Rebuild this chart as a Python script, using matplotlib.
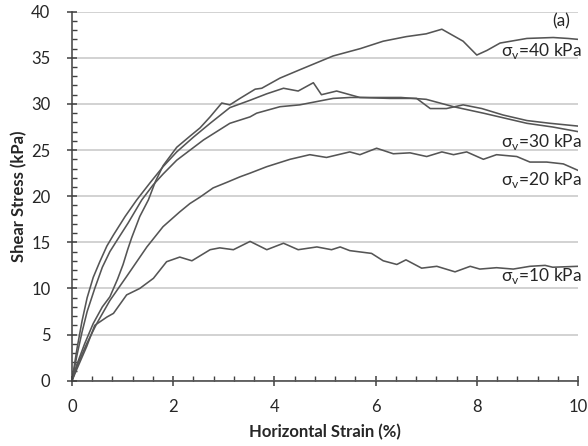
import matplotlib
matplotlib.use("Agg")
import matplotlib.pyplot as plt
from matplotlib.ticker import MultipleLocator

plt.rcParams['font.family'] = ['Lato', 'DejaVu Sans']
plt.rcParams['mathtext.fontset'] = 'custom'
plt.rcParams['mathtext.rm'] = 'Lato'

# data (strain %, shear stress kPa)
x_40 = [0, 0.1, 0.25, 0.42, 0.6, 0.75, 0.9, 1.01, 1.1, 1.18, 1.34, 1.51, 1.65, 1.8, 2.07, 2.33, 2.53,
        2.73, 2.96, 3.12, 3.32, 3.62, 3.75, 4.11, 4.5, 5.16, 5.7, 6.15, 6.61, 7.0, 7.31, 7.73, 8.0,
        8.2, 8.46, 8.99, 9.51, 9.8, 10.0]
y_40 = [0, 1.8, 4.0, 6.2, 8.0, 9.1, 11.0, 12.6, 14.2, 15.5, 17.8, 19.6, 21.6, 23.3, 25.3, 26.5, 27.4,
        28.6, 30.1, 29.9, 30.6, 31.6, 31.7, 32.8, 33.7, 35.2, 36.0, 36.8, 37.3, 37.6, 38.1, 36.8, 35.3,
        35.8, 36.6, 37.1, 37.2, 37.1, 37.0]

x_30a = [0, 0.1, 0.2, 0.3, 0.42, 0.55, 0.69, 0.82, 1.05, 1.28, 1.55, 1.8, 2.07, 2.4, 2.73, 3.12, 3.52,
         3.85, 4.18, 4.47, 4.77, 4.93, 5.23, 5.69, 6.28, 6.81, 7.08, 7.4, 7.73, 8.1, 8.52, 8.99,
         9.45, 10.0]
y_30a = [0, 3.5, 6.5, 9.0, 11.2, 12.9, 14.6, 15.8, 17.8, 19.6, 21.5, 23.2, 24.8, 26.4, 27.9, 29.6, 30.4,
         31.1, 31.7, 31.4, 32.3, 31.0, 31.4, 30.7, 30.6, 30.6, 29.5, 29.5, 29.9, 29.5, 28.8, 28.2,
         27.9, 27.6]

x_30b = [0, 0.1, 0.2, 0.3, 0.45, 0.6, 0.75, 0.9, 1.11, 1.38, 1.6, 1.8, 2.07, 2.6, 3.12, 3.52, 3.65,
         4.11, 4.5, 5.16, 5.5, 6.0, 6.5, 7.0, 7.54, 8.13, 8.99, 9.5, 10.0]
y_30b = [0, 2.8, 5.3, 7.5, 10.0, 12.3, 14.0, 15.3, 17.1, 19.6, 21.2, 22.4, 23.9, 26.1, 27.9, 28.6, 29.0,
         29.7, 29.9, 30.6, 30.7, 30.7, 30.7, 30.5, 29.7, 29.0, 27.9, 27.5, 27.0]

x_20 = [0, 0.1, 0.29, 0.49, 0.75, 1.08, 1.48, 1.8, 2.13, 2.33, 2.53, 2.79, 3.06, 3.32, 3.52,
        3.85, 4.31, 4.7, 5.03, 5.49, 5.69, 6.02, 6.35, 6.68, 7.01, 7.31, 7.54, 7.8, 8.13, 8.39,
        8.79, 9.05, 9.38, 9.71, 10.0]
y_20 = [0, 1.6, 4.0, 6.2, 8.7, 11.3, 14.5, 16.7, 18.3, 19.2, 19.9, 20.9, 21.5, 22.1, 22.5,
        23.2, 24.0, 24.5, 24.2, 24.8, 24.5, 25.2, 24.6, 24.7, 24.3, 24.8, 24.5, 24.8, 24.0, 24.5,
        24.3, 23.7, 23.7, 23.5, 22.8]

x_10 = [0, 0.1, 0.29, 0.45, 0.69, 0.82, 1.08, 1.34, 1.61, 1.87, 2.13, 2.37, 2.73, 2.92, 3.19,
        3.52, 3.85, 4.18, 4.47, 4.84, 5.13, 5.3, 5.49, 5.92, 6.15, 6.42, 6.6, 6.91, 7.21, 7.57,
        7.87, 8.06, 8.39, 8.72, 9.05, 9.35, 9.5, 10.0]
y_10 = [0, 1.3, 3.7, 6.0, 6.9, 7.3, 9.3, 10.0, 11.1, 12.9, 13.4, 13.0, 14.2, 14.4, 14.2,
        15.1, 14.2, 14.9, 14.2, 14.5, 14.2, 14.5, 14.1, 13.8, 13.0, 12.6, 13.1, 12.2, 12.4, 11.8,
        12.4, 12.1, 12.25, 12.1, 12.4, 12.5, 12.3, 12.4]

labels = ['40', '30', '20', '10']
label_y = [35.7, 25.9, 21.8, 11.4]

fig = plt.figure(figsize=(5.88, 4.46), dpi=100)
ax = fig.add_axes([0.1224, 0.1464, 0.8606, 0.8274])

lc = '#555555'
for xs, ys in [(x_40, y_40), (x_30a, y_30a), (x_30b, y_30b), (x_20, y_20), (x_10, y_10)]:
    ax.plot(xs, ys, color=lc, lw=1.15, zorder=3)

ax.set_xlim(0, 10)
ax.set_ylim(0, 40)
ax.xaxis.set_major_locator(MultipleLocator(2))
ax.xaxis.set_minor_locator(MultipleLocator(0.4))
ax.yaxis.set_major_locator(MultipleLocator(5))
ax.yaxis.set_minor_locator(MultipleLocator(1))
ax.grid(axis='y', which='major', color='#c6c6c6', lw=1.1, zorder=0)
ax.set_axisbelow(True)

for s in ['top', 'right']:
    ax.spines[s].set_visible(False)
for s in ['left', 'bottom']:
    ax.spines[s].set_color('#404040')
    ax.spines[s].set_linewidth(1.1)
    ax.spines[s].set_zorder(4)

ax.tick_params(which='major', direction='inout', length=7, width=1.1, color='#404040',
               labelsize=12, labelcolor='#262626')
ax.tick_params(axis='x', which='major', pad=10)
ax.tick_params(axis='y', which='major', pad=12)
ax.tick_params(which='minor', direction='in', length=3.5, width=1.0, color='#404040')

ax.set_xlabel('Horizontal Strain (%)', fontsize=12, fontweight='bold', color='#262626', labelpad=6)
ax.set_ylabel('Shear Stress (kPa)', fontsize=12, fontweight='bold', color='#262626', labelpad=3)

for lab, yy in zip(labels, label_y):
    ax.text(10.08, yy, r'σ$_{\mathrm{v}}$=' + lab + ' kPa', fontsize=12.5, color='#262626',
            ha='right', va='center', zorder=5)
ax.text(9.85, 39.0, '(a)', fontsize=12.5, color='#262626', ha='right', va='center')

fig.savefig('out.png', dpi=100)
